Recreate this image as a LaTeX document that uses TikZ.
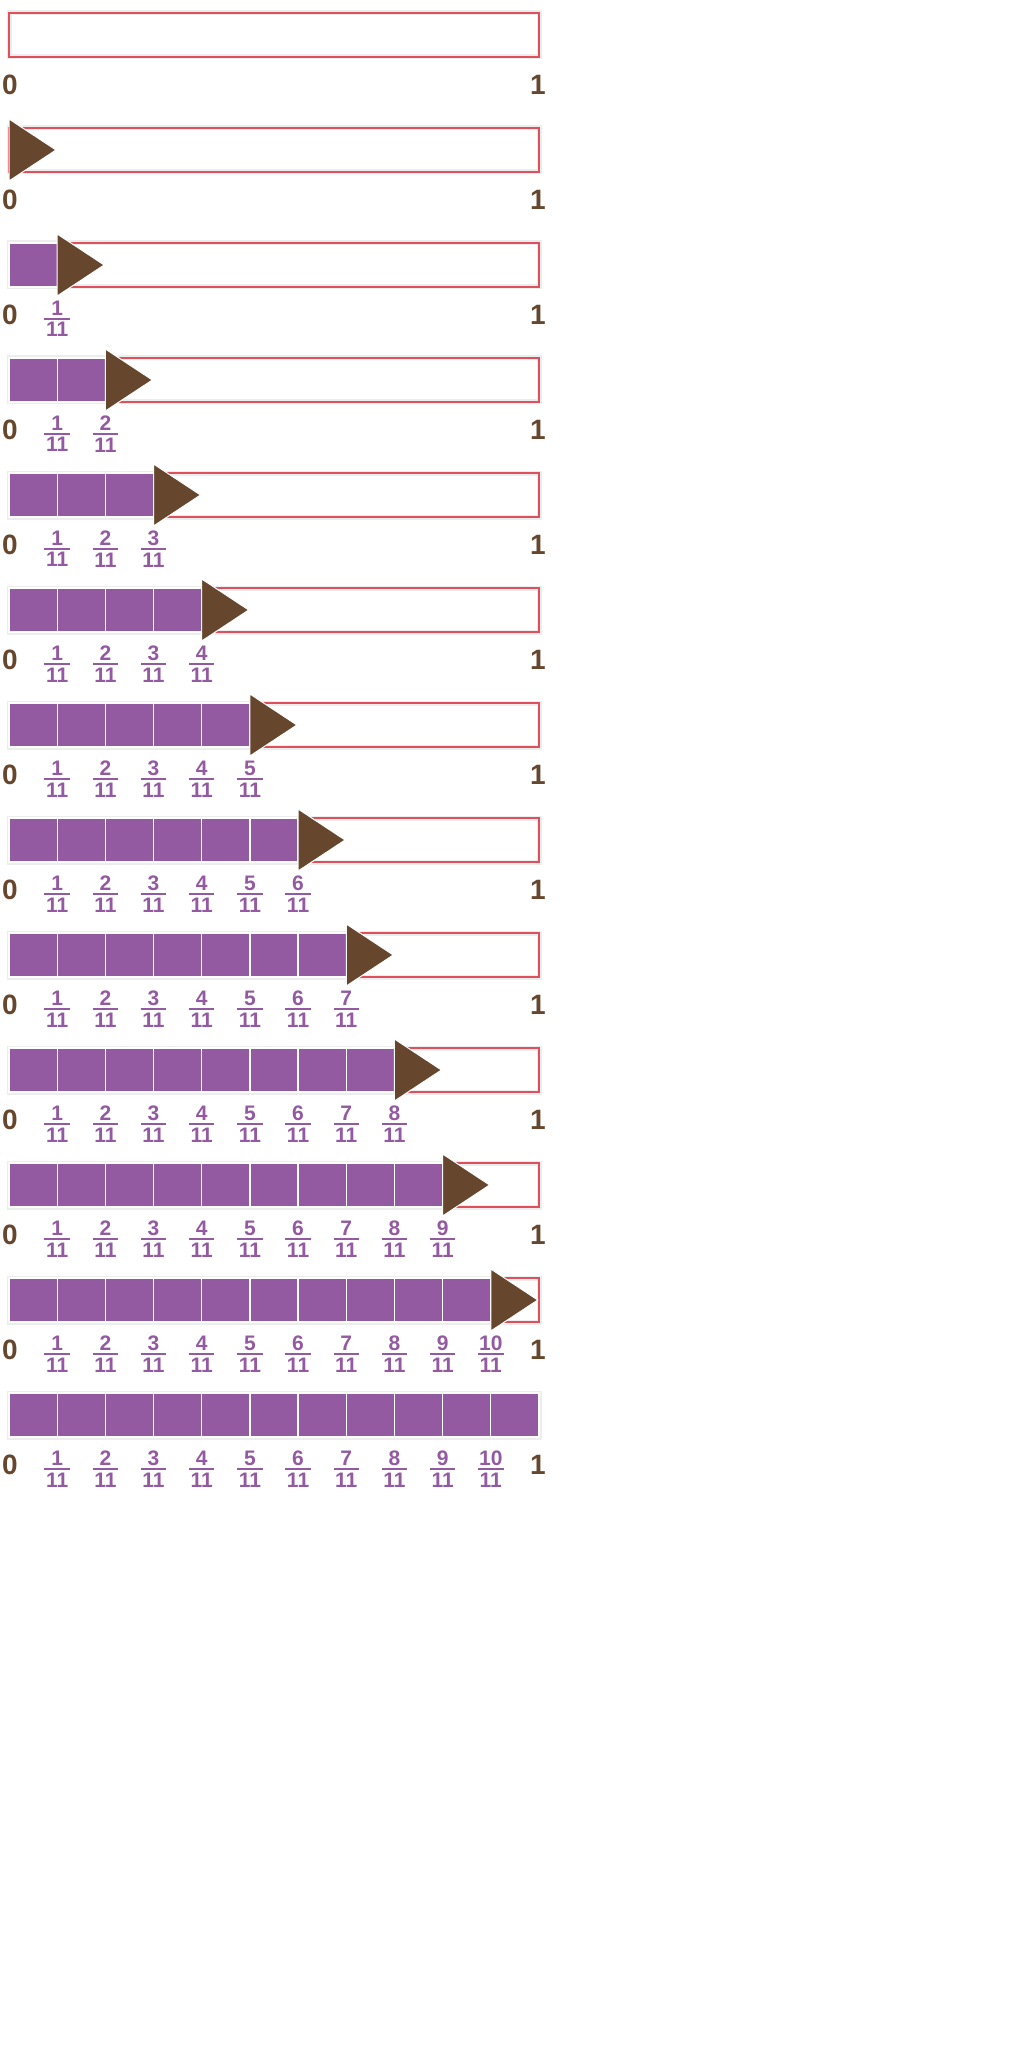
\documentclass[tikz,border=0pt]{standalone}
\usepackage{fontspec}
\setmainfont{Liberation Sans}

\definecolor{barred}{RGB}{221,80,92}
\definecolor{cellpurple}{RGB}{147,90,161}
\definecolor{arrowbrown}{RGB}{102,71,46}

% stacked fraction with a rule, for the labels under the strip
\newcommand\elevenths[2]{\vbox{\offinterlineskip
  \halign{\hfil\kern0.8pt##\kern0.8pt\hfil\cr #1\cr
  \noalign{\kern1.4pt\hrule height0.75pt\kern1.4pt}#2\cr}}}

\begin{document}
\begin{tikzpicture}[x=0.5pt, y=-0.5pt,
  glow/.style = {draw=black!7, line width=2.5pt},
  bar/.style = {draw=barred, line width=0.6pt},
  cell/.style = {fill=cellpurple, draw=white, line width=0.6pt},
  pointer/.style = {fill=arrowbrown, draw=white, line width=0.5pt},
  endlabel/.style = {font=\fontsize{14}{14}\selectfont\bfseries, text=arrowbrown, inner sep=0pt},
  fraclabel/.style = {font=\fontsize{10.5}{10.5}\selectfont\bfseries, text=cellpurple, inner sep=0pt}
]
\useasboundingbox (0,0) rectangle (1024,2048);

% 13 strips, 115px apart; strip from x=9 to x=539, cell = 530/11
\foreach \r in {0,...,12} {
  \pgfmathsetmacro\rowtop{13+115*\r}
  \pgfmathtruncatemacro\nfill{\r==12 ? 11 : max(\r-1,0)}
  \pgfmathtruncatemacro\nlab{min(\nfill,10)}

  % empty strip
  \draw[glow] (9,\rowtop) rectangle (539,\rowtop+44);
  \draw[bar] (9,\rowtop) rectangle (539,\rowtop+44);

  % filled elevenths and their labels
  \ifnum\nfill>0
    \foreach \k in {1,...,\nfill}
      \draw[cell] ({9+48.18*(\k-1)},\rowtop) rectangle ({9+48.18*\k},\rowtop+44);
    \foreach \k in {1,...,\nlab}
      \node[fraclabel] (f\r-\k) at ({9+48.18*\k},\rowtop+76) {\elevenths{\k}{11}};
  \fi

  % moving pointer
  \ifnum\r>0 \ifnum\r<12
    \path[pointer] ({9+48.18*(\r-1)},\rowtop-9) -- ++(47,31) -- ++(-47,31) -- cycle;
  \fi \fi

  % ends of the strip
  \node[endlabel] (zero\r) at (10,\rowtop+72) {0};
  \node[endlabel] (one\r) at (538,\rowtop+72) {1};
}

\end{tikzpicture}
\end{document}
